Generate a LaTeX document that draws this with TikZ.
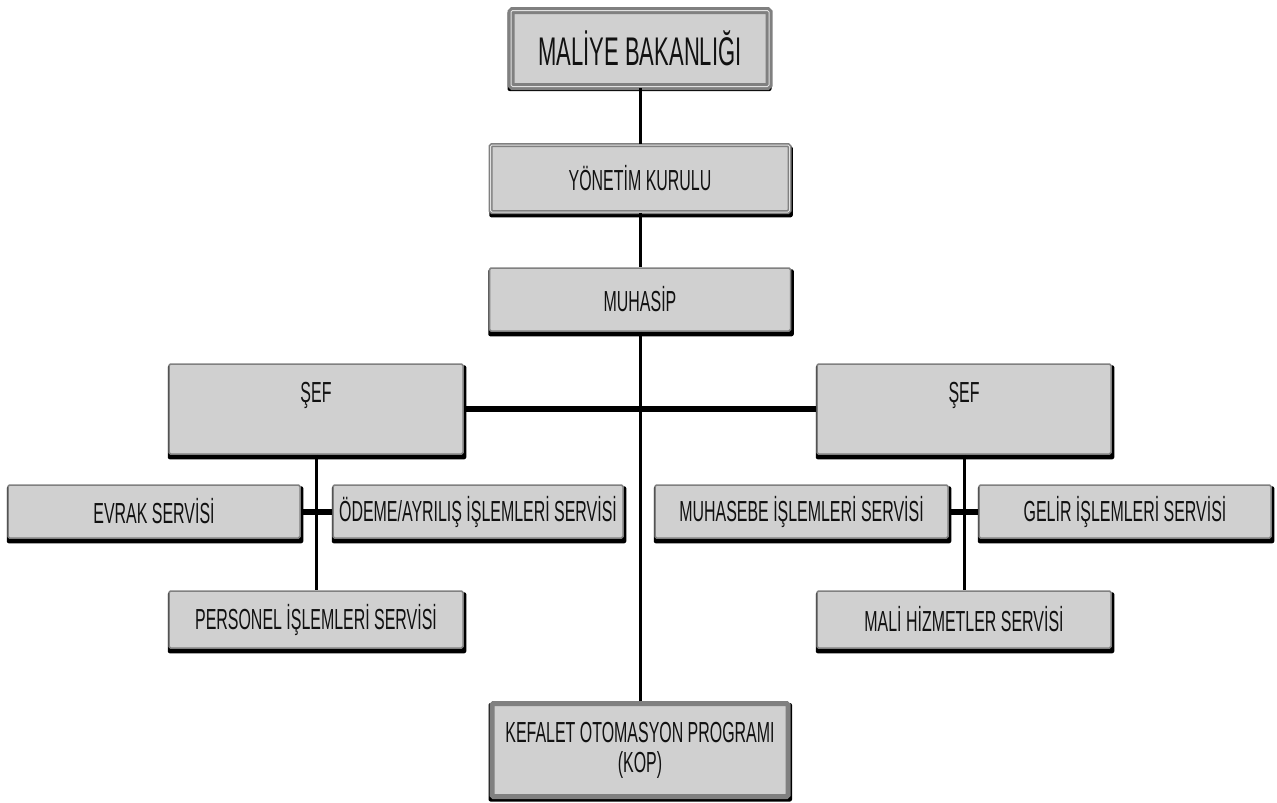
\documentclass[tikz,border=0pt]{standalone}
\usepackage{fontspec}
\setmainfont{Liberation Sans}[FakeStretch=0.55]
\usetikzlibrary{backgrounds}
\definecolor{boxfill}{RGB}{208,208,208}
\definecolor{framegray}{RGB}{128,128,128}
\definecolor{innerline}{RGB}{225,225,225}
\definecolor{ink}{RGB}{17,17,17}
\begin{document}
\begin{tikzpicture}[x=1pt,y=-1pt,
  box/.style={rectangle, fill=boxfill, draw=framegray, line width=1.5pt,
    rounded corners=1.5pt, inner sep=0pt, text=ink, align=center,
    font=\fontsize{29}{30}\selectfont},
  framed/.style={box, double=innerline, double distance=1pt},
  heavy/.style={box, line width=5pt},
  lbl/.style={inner sep=0pt, text=ink, font=\fontsize{29}{30}\selectfont},
  shade/.style={fill=black, rounded corners=2pt},
  conn/.style={draw=black, line width=3pt},
  bus/.style={draw=black, line width=6pt}]
\useasboundingbox (0,0) rectangle (1277,803);

% top chain
\node[framed, line width=3pt, minimum width=258pt, minimum height=76pt,
  font=\fontsize{40}{42}\selectfont] (maliye) at (640,48.5) {MALİYE BAKANLIĞI};
\node[framed, minimum width=299pt, minimum height=67pt] (yonetim) at (640,178.5) {YÖNETİM KURULU};
\node[box, minimum width=301pt, minimum height=63pt] (muhasip) at (640,299.5) {MUHASİP};

% chiefs
\node[box, minimum width=294pt, minimum height=90pt] (sefL) at (316,409) {};
\node[lbl, anchor=base] (sefLt) at (316,402) {ŞEF};
\node[box, minimum width=294pt, minimum height=90pt] (sefR) at (964,409) {};
\node[lbl, anchor=base] (sefRt) at (964,402) {ŞEF};

% left services
\node[box, minimum width=292pt, minimum height=53pt] (evrak) at (154,511.5) {EVRAK SERVİSİ};
\node[box, minimum width=290pt, minimum height=53pt] (odeme) at (478,511.5) {ÖDEME/AYRILIŞ İŞLEMLERİ SERVİSİ};
\node[box, minimum width=294pt, minimum height=57pt] (personel) at (316,619.5) {PERSONEL İŞLEMLERİ SERVİSİ};

% right services
\node[box, minimum width=293pt, minimum height=53pt] (muhasebe) at (801.5,511.5) {MUHASEBE İŞLEMLERİ SERVİSİ};
\node[box, minimum width=292pt, minimum height=53pt] (gelir) at (1125,511.5) {GELİR İŞLEMLERİ SERVİSİ};
\node[box, minimum width=294pt, minimum height=57pt] (mali) at (964,619.5) {MALİ HİZMETLER SERVİSİ};

% bottom
\node[heavy, minimum width=296pt, minimum height=93pt] (kop) at (640,750) {KEFALET OTOMASYON PROGRAMI\\(KOP)};

% shadows behind the boxes
\begin{scope}[on background layer]
  \foreach \n in {yonetim,muhasip,sefL,sefR,evrak,odeme,personel,muhasebe,gelir,mali}
    \fill[shade] ([shift={(-0.5pt,-2pt)}]\n.north west) rectangle ([shift={(2.5pt,-4.5pt)}]\n.south east);
  \fill[shade] ([shift={(-2pt,-2pt)}]maliye.north west) rectangle ([shift={(1pt,-3pt)}]maliye.south east);
  \fill[shade] ([shift={(-1pt,-2pt)}]kop.north west) rectangle ([shift={(1.5pt,-2.5pt)}]kop.south east);
\end{scope}

% connectors
\draw[conn] (maliye) -- (yonetim);
\draw[conn] (yonetim) -- (muhasip);
\draw[conn] (muhasip.south) -- (kop.north);
\draw[bus] (sefL.east) -- (sefR.west);
\draw[conn] (sefL.south) -- (personel.north);
\draw[bus] (evrak.east) -- (odeme.west);
\draw[conn] (sefR.south) -- (mali.north);
\draw[bus] (muhasebe.east) -- (gelir.west);
\end{tikzpicture}
\end{document}
